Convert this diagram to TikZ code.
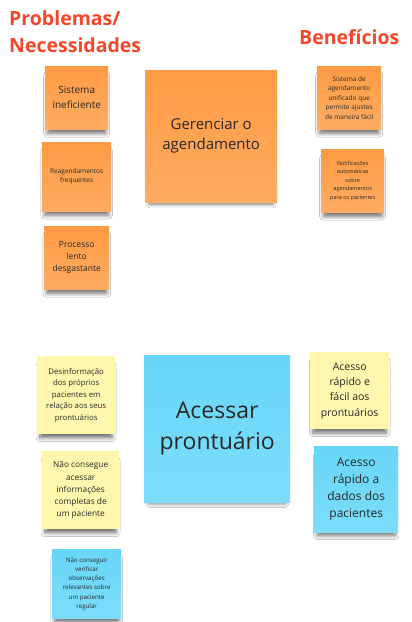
\documentclass[tikz,border=0pt]{standalone}
\usepackage{fontspec}
\setmainfont{Open Sans}
\usetikzlibrary{shadows.blur}
\definecolor{titlered}{RGB}{240,72,40}
\definecolor{notetext}{RGB}{40,40,40}
\definecolor{orangetop}{RGB}{253,155,68}
\definecolor{orangebot}{RGB}{255,172,98}
\definecolor{yellownote}{RGB}{255,247,174}
\definecolor{bluetop}{RGB}{104,214,249}
\definecolor{bluebot}{RGB}{124,221,251}
\tikzset{
  >=latex,
  heading/.style={anchor=base west,inner sep=0pt,text=titlered,
    font=\fontsize{19.5}{24}\selectfont\bfseries},
  note/.style={anchor=north west,inner sep=0pt,align=center,text=notetext,
    blur shadow={shadow xshift=0pt,shadow yshift=-7pt,shadow scale=0.93,
      shadow opacity=55,shadow blur radius=4pt,shadow blur steps=8}},
  orangenote/.style={note,top color=orangetop,bottom color=orangebot},
  yellownote/.style={note,fill=yellownote},
  bluenote/.style={note,top color=bluetop,bottom color=bluebot},
  fs/.style n args={2}{font=\fontsize{#1}{#2}\selectfont}
}

\begin{document}
\begin{tikzpicture}[x=1pt,y=-1pt]
  \useasboundingbox[fill=white] (0,0) rectangle (412,622);
  \node[heading] (prob) at (9,25) {Problemas/};
  \node[heading] (nec) at (9,52) {Necessidades};
  \node[heading] (bene) at (299,44) {Benefícios};

  \node[orangenote,fs={10}{15},minimum width=63pt,minimum height=63pt]
    (sist) at (45,66) {Sistema\\ineficiente};
  \node[orangenote,fs={6.5}{9},minimum width=69pt,minimum height=69pt]
    (reag) at (42,142) {Reagendamentos\\frequentes};
  \node[orangenote,fs={8.5}{12},minimum width=65pt,minimum height=63pt]
    (proc) at (44,226) {Processo\\lento\\desgastante};
  \node[orangenote,fs={15}{20},minimum width=132pt,minimum height=132pt]
    (ger) at (145,70) {Gerenciar o\\agendamento};
  \node[orangenote,fs={6.5}{9.5},minimum width=64pt,minimum height=63pt]
    (unif) at (317,66) {Sistema de\\agendamento\\unificado que\\permite ajustes\\de maneira fácil};
  \node[orangenote,fs={5.5}{8.5},minimum width=63pt,minimum height=63pt]
    (notif) at (321,149) {Notificações\\automáticas\\sobre\\agendamentos\\para os pacientes};

  \node[yellownote,fs={7.8}{11.6},minimum width=78pt,minimum height=78pt]
    (desinf) at (37,356) {Desinformação\\dos próprios\\pacientes em\\relação aos seus\\prontuários};
  \node[yellownote,fs={8.3}{12.2},minimum width=77pt,minimum height=78pt]
    (nacess) at (42,451) {Não consegue\\acessar\\informações\\completas de\\um paciente};
  \node[bluenote,fs={6.2}{9.2},minimum width=69pt,minimum height=69pt]
    (nverif) at (52,549) {Não conseguir\\verificar\\observações\\relevantes sobre\\um paciente\\regular};
  \node[bluenote,fs={23}{31.5},minimum width=146pt,minimum height=147pt]
    (pront) at (144,355) {Acessar\\prontuário};
  \node[yellownote,fs={10.5}{15.2},minimum width=79pt,minimum height=77pt]
    (facil) at (310,352) {Acesso\\rápido e\\fácil aos\\prontuários};
  \node[bluenote,fs={12}{17.2},minimum width=84pt,minimum height=86pt]
    (dados) at (314,446) {Acesso\\rápido a\\dados dos\\pacientes};
\end{tikzpicture}
\end{document}
